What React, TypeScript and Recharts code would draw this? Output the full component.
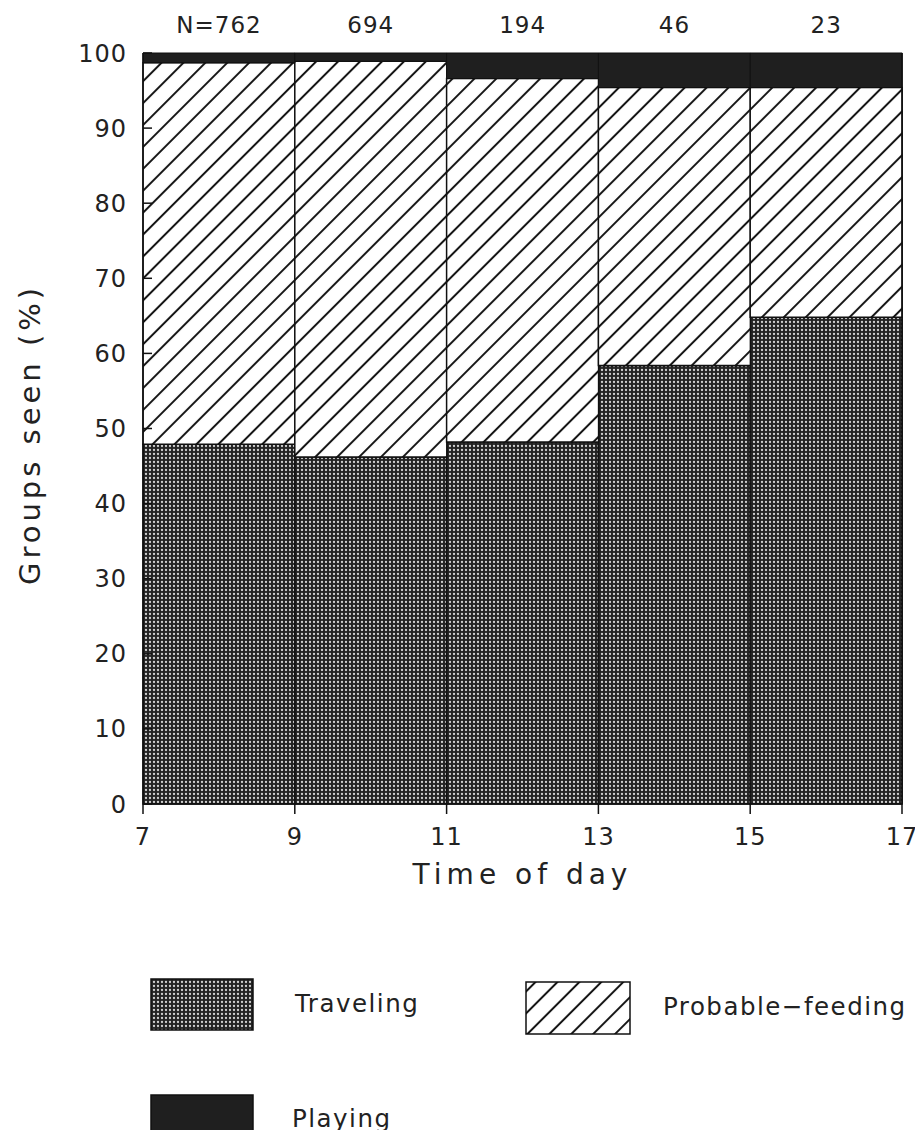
import React from 'react';
import { BarChart, Bar, XAxis, YAxis, LabelList, Label } from 'recharts';

// ---- data ----
const binMid = [8, 10, 12, 14, 16]; // centres of the 2-hour bins 7-9 ... 15-17
const traveling = [47.9, 46.2, 48.2, 58.4, 64.8];
const probableFeeding = [50.8, 52.7, 48.4, 37.0, 30.6];
const playing = [1.3, 1.1, 3.4, 4.6, 4.6];
const sampleSizes = ['N=762', '694', '194', '46', '23'];
const xTicks = [7, 9, 11, 13, 15, 17];
const yTicks = [0, 10, 20, 30, 40, 50, 60, 70, 80, 90, 100];
const seriesNames = ['Traveling', 'Probable\u2212feeding', 'Playing'];

const data = binMid.map((m, i) => ({
  mid: m,
  traveling: traveling[i],
  feeding: probableFeeding[i],
  playing: playing[i],
  n: sampleSizes[i],
}));

const FONT = '"DejaVu Sans", Verdana, sans-serif';
const INK = '#1f1f1f';

const fills = ['url(#dotPat)', 'url(#hatchPat)', INK];

const renderYLabel = (props: any) => {
  const vb = props.viewBox || { x: 0, y: 45, width: 135, height: 751 };
  const cx = 32;
  const cy = vb.y + vb.height / 2 + 6;
  return (
    <text
      x={cx}
      y={cy}
      transform={`rotate(-90 ${cx} ${cy})`}
      textAnchor="middle"
      fontSize={29}
      letterSpacing={4}
      fill="#222"
      fontFamily={FONT}
    >
      Groups seen (%)
    </text>
  );
};

const Legend = () => {
  const items = [
    { x: 143, y: 971, w: 102, h: 51, tx: 287, ty: 1004 },
    { x: 518, y: 974, w: 104, h: 52, tx: 655, ty: 1007 },
    { x: 143, y: 1087, w: 102, h: 60, tx: 284, ty: 1119 },
  ];
  return (
    <svg
      width={915}
      height={1130}
      style={{ position: 'absolute', left: 0, top: 0, pointerEvents: 'none' }}
    >
      {items.map((it, i) => (
        <g key={seriesNames[i]}>
          <rect x={it.x} y={it.y} width={it.w} height={it.h} fill={fills[i]} stroke="#111" strokeWidth={1.5} />
          <text x={it.tx} y={it.ty} fontSize={24.5} letterSpacing={1.5} fill="#222" fontFamily={FONT}>
            {seriesNames[i]}
          </text>
        </g>
      ))}
    </svg>
  );
};

export default function App() {
  return (
    <div
      style={{
        position: 'relative',
        width: 915,
        height: 1130,
        marginBottom: -8,
        marginRight: -8,
        overflow: 'hidden',
        fontFamily: FONT,
        background: '#fff',
      }}
    >
      <BarChart
        width={915}
        height={920}
        data={data}
        margin={{ top: 45, right: 20, left: 0, bottom: 44 }}
        barCategoryGap={0}
        barGap={0}
      >
        <defs>
          <pattern id="dotPat" patternUnits="userSpaceOnUse" width={4} height={4}>
            <rect x={0} y={0} width={4} height={4} fill="#222" />
            <circle cx={2} cy={2} r={1.15} fill="#d0d0d0" />
          </pattern>
          <pattern
            id="hatchPat"
            patternUnits="userSpaceOnUse"
            width={15.5}
            height={15.5}
            patternTransform="rotate(45)"
          >
            <rect x={0} y={0} width={15.5} height={15.5} fill="#fff" />
            <line x1={7.75} y1={0} x2={7.75} y2={15.5} stroke="#151515" strokeWidth={2} />
          </pattern>
        </defs>
        <XAxis
          dataKey="mid"
          type="number"
          domain={[7, 17]}
          ticks={xTicks}
          interval={0}
          height={80}
          tickSize={10}
          tickMargin={14}
          axisLine={{ stroke: '#111', strokeWidth: 1.5 }}
          tickLine={{ stroke: '#111', strokeWidth: 1.5 }}
          tick={{ fontSize: 24, fill: '#222', letterSpacing: 1 }}
        >
          <Label
            value="Time of day"
            position="insideBottom"
            offset={0}
            fontSize={28}
            letterSpacing={5}
            fill="#222"
          />
        </XAxis>
        <YAxis
          yAxisId="left"
          orientation="left"
          width={135}
          domain={[0, 100]}
          ticks={yTicks}
          interval={0}
          tickSize={-9}
          tickMargin={25}
          axisLine={{ stroke: '#111', strokeWidth: 1.5 }}
          tickLine={{ stroke: '#111', strokeWidth: 1.5 }}
          tick={{ fontSize: 24, fill: '#222', letterSpacing: 1 }}
        >
          <Label content={renderYLabel} />
        </YAxis>
        <YAxis
          yAxisId="right"
          orientation="right"
          width={1}
          domain={[0, 100]}
          ticks={yTicks}
          interval={0}
          tickSize={-9}
          tick={false}
          axisLine={{ stroke: '#111', strokeWidth: 1.5 }}
          tickLine={{ stroke: '#111', strokeWidth: 1.5 }}
        />
        <Bar
          dataKey="traveling"
          name={seriesNames[0]}
          stackId="s"
          yAxisId="left"
          fill={fills[0]}
          stroke="#111"
          strokeWidth={1.5}
          isAnimationActive={false}
        />
        <Bar
          dataKey="feeding"
          name={seriesNames[1]}
          stackId="s"
          yAxisId="left"
          fill={fills[1]}
          stroke="#111"
          strokeWidth={1.5}
          isAnimationActive={false}
        />
        <Bar
          dataKey="playing"
          name={seriesNames[2]}
          stackId="s"
          yAxisId="left"
          fill={fills[2]}
          stroke="#111"
          strokeWidth={1}
          isAnimationActive={false}
        >
          <LabelList dataKey="n" position="top" offset={20} fontSize={23} letterSpacing={1} fill="#222" />
        </Bar>
      </BarChart>
      <Legend />
    </div>
  );
}
